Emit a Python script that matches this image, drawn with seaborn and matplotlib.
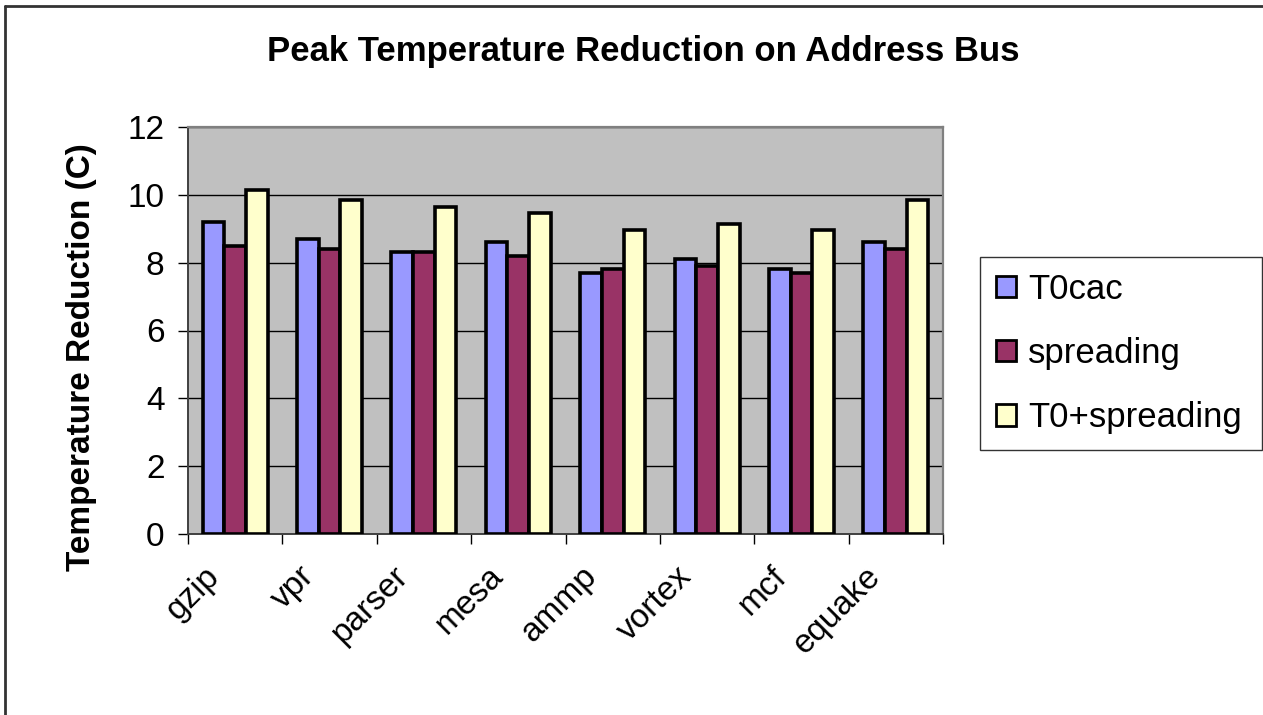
import matplotlib
matplotlib.use("Agg")
import matplotlib.pyplot as plt
import matplotlib.transforms as mtransforms
from matplotlib.lines import Line2D
import seaborn as sns
import pandas as pd

# Peak temperature reduction (C) per benchmark for each technique
benchmarks = ["gzip", "vpr", "parser", "mesa", "ammp", "vortex", "mcf", "equake"]
t0cac = [9.2, 8.7, 8.3, 8.6, 7.7, 8.1, 7.8, 8.6]
spreading = [8.5, 8.4, 8.3, 8.2, 7.8, 7.9, 7.7, 8.4]
t0_spreading = [10.15, 9.85, 9.65, 9.45, 8.95, 9.15, 8.95, 9.85]
series_names = ["T0cac", "spreading", "T0+spreading"]
series_colors = ["#9999FF", "#993366", "#FFFFCC"]
y_ticks = [0, 2, 4, 6, 8, 10, 12]

df = pd.DataFrame({
    "benchmark": benchmarks * 3,
    "series": [s for s in series_names for _ in benchmarks],
    "value": t0cac + spreading + t0_spreading,
})

sns.set_theme(style="white")
plt.rcParams["font.family"] = ["Liberation Sans", "DejaVu Sans"]
plt.rcParams["text.color"] = "black"
plt.rcParams["axes.labelcolor"] = "black"
plt.rcParams["xtick.color"] = "black"
plt.rcParams["ytick.color"] = "black"

W, H = 1263, 715
fig = plt.figure(figsize=(W / 100, H / 100), dpi=100)
fig.patch.set_facecolor("white")
ax = fig.add_axes([188 / W, 1 - 534 / H, (943 - 188) / W, (534 - 127) / H])
ax.set_facecolor("#C0C0C0")

sns.barplot(
    data=df, x="benchmark", y="value", hue="series",
    order=benchmarks, hue_order=series_names, palette=series_colors,
    width=0.69, saturation=1, edgecolor="black", linewidth=2.6,
    errorbar=None, ax=ax, zorder=3,
)

ax.set_ylim(0, 12)
ax.set_yticks(y_ticks)
ax.set_xlim(-0.5, len(benchmarks) - 0.5)
ax.yaxis.grid(True, color="black", linewidth=1.0)
ax.xaxis.grid(False)
ax.set_axisbelow(True)

for side in ["top", "right"]:
    ax.spines[side].set_color("#808080")
    ax.spines[side].set_linewidth(1.6)
for side in ["left", "bottom"]:
    ax.spines[side].set_color("#404040")
    ax.spines[side].set_linewidth(1.4)

# y ticks outward
ax.tick_params(axis="y", which="major", direction="out", length=7, width=1,
               color="black", left=True, labelsize=24, pad=10)
# x tick marks at category boundaries, labels at centres
ax.set_xticks([i - 0.5 for i in range(len(benchmarks) + 1)], minor=True)
ax.tick_params(axis="x", which="minor", direction="out", length=7, width=1,
               color="black", bottom=True)
ax.tick_params(axis="x", which="major", length=0, labelsize=24, pad=27)
ax.set_xticks(range(len(benchmarks)))
ax.set_xticklabels(benchmarks, rotation=45, ha="right", va="center",
                   rotation_mode="anchor")
offset = mtransforms.ScaledTranslation(-0.2, 0, fig.dpi_scale_trans)
for lbl in ax.get_xticklabels():
    lbl.set_transform(lbl.get_transform() + offset)

ax.set_xlabel("")
ax.set_ylabel("Temperature Reduction (C)", fontsize=24, fontweight="bold")
ax.yaxis.set_label_coords((97 - 188) / 755, (534 - 357) / 407)

# legend in a boxed panel to the right of the plot
handles, labels = ax.get_legend_handles_labels()
leg = ax.legend(
    handles, labels, loc="upper left", mode="expand",
    bbox_to_anchor=(980 / W, 1 - 447 / H, 282 / W, 190 / H),
    bbox_transform=fig.transFigure,
    frameon=True, fancybox=False, fontsize=25, handlelength=0.58,
    handleheight=0.58, handletextpad=0.35, labelspacing=0.9,
    borderpad=0.45, borderaxespad=0,
)
leg.get_frame().set_edgecolor("black")
leg.get_frame().set_linewidth(1.0)
for h in leg.legend_handles:
    h.set_linewidth(2.0)

fig.text(643 / W, 1 - 52 / H, "Peak Temperature Reduction on Address Bus",
         ha="center", va="center", fontsize=25, fontweight="bold")

# chart-area frame along the top and left edges
fig.add_artist(Line2D([5 / W, 1], [1 - 6 / H, 1 - 6 / H], color="#333333",
                      linewidth=2, transform=fig.transFigure))
fig.add_artist(Line2D([5 / W, 5 / W], [0, 1 - 6 / H], color="#333333",
                      linewidth=2, transform=fig.transFigure))

fig.savefig("out.png", dpi=100)
